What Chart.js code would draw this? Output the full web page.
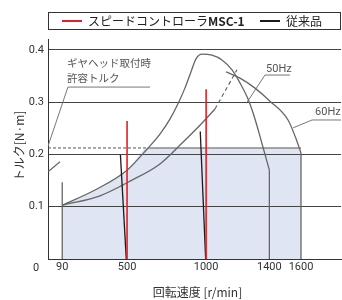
<!DOCTYPE html>
<html lang="ja">
<head>
<meta charset="utf-8">
<script src="https://cdn.jsdelivr.net/npm/chart.js@4"></script>
<style>
  body{ margin:0; background:#fff; }
  #quadro{ position:relative; width:342px; height:300px; }
  #grafico{ display:block; }
  #legenda{ position:absolute; left:48px; top:12px; width:291px; height:16px; border:1px solid #333;
    font:12px "Noto Sans CJK JP", sans-serif; color:#222; }
  .traco{ position:absolute; top:7px; width:20px; height:2px; }
  .item{ position:absolute; top:0; line-height:16px; white-space:nowrap; }
</style>
</head>
<body>
<div id="quadro">
  <canvas id="grafico" width="342" height="300"></canvas>
  <div id="legenda">
    <span class="traco" style="left:13px;background:#e41f26"></span>
    <span class="item" style="left:39px">スピードコントローラ<b>MSC-1</b></span>
    <span class="traco" style="left:211px;background:#1a1a1a"></span>
    <span class="item" style="left:237px">従来品</span>
  </div>
</div>
<script>
// Dados do gráfico

const ticksVelocidade = [90, 500, 1000, 1400, 1600]
const ticksTorque = [0.1, 0.2, 0.3, 0.4]

// MSC-1 (vermelho)
const mscVelocidade = [500, 1000]
const mscTorque = [0.264, 0.325]

// convencional (preto)
const convTopoVelocidade = [458, 963]
const convTopoTorque = [0.199, 0.244]
const convBaseVelocidade = [495, 997]

// curva 50Hz
const vel50 = [90, 297, 500, 633, 708, 772, 822, 866, 904, 936, 974, 1037, 1100, 1164, 1214, 1265, 1309, 1354, 1400]
const tor50 = [0.103, 0.132, 0.170, 0.2125, 0.239, 0.268, 0.297, 0.327, 0.358, 0.383, 0.392, 0.390, 0.381, 0.362, 0.337, 0.306, 0.268, 0.220, 0.170]

// curva 60Hz
const vel60Subida = [90, 329, 519, 708, 848, 961, 1056]
const tor60Subida = [0.103, 0.121, 0.149, 0.182, 0.222, 0.256, 0.287]
const vel60Tracejado = [1056, 1195]
const tor60Tracejado = [0.287, 0.362]
const vel60Queda = [1126, 1214, 1309, 1404, 1518, 1565, 1600]
const tor60Queda = [0.358, 0.346, 0.327, 0.302, 0.266, 0.233, 0.203]

// linhas verticais (90, 1400, 1600)
const verticalVelocidade = [90, 1400, 1600]
const verticalTorque = [0.147, 0.170, 0.203]

// torque admissível com redutor
const torqueRedutor = 0.2125
const fimRedutor = 1600

// linhas de chamada
const guiaRedutorVel = [0, 126, 645]
const guiaRedutorTor = [0.216, 0.329, 0.329]
const guia50Vel = [1259, 1372, 1530]
const guia50Tor = [0.300, 0.352, 0.352]
const guia60Vel = [1550, 1670, 1853]
const guia60Tor = [0.251, 0.266, 0.266]
const tracoEsqVel = [0, 76]
const tracoEsqTor = [0.167, 0.186]

// textos no gráfico
const rotulos = [
    { texto: 'ギヤヘッド取付時', x: 120, y: 0.375, fonte: '10.5px "Noto Sans CJK JP"' },
    { texto: '許容トルク', x: 120, y: 0.346, fonte: '10.5px "Noto Sans CJK JP"' },
    { texto: '50Hz', x: 1379, y: 0.364, fonte: '11px Roboto' },
    { texto: '60Hz', x: 1689, y: 0.281, fonte: '11px Roboto' }
]

// cores
const vermelho = '#e41f26'
const preto = '#1a1a1a'
const cinza = '#666'

function pares(xs, ys){
    const lista = []
    for(let i = 0; i < xs.length; i++){
        lista.push({ x: xs[i], y: ys[i] })
    }
    return lista
}

function linha(xs, ys, cor, largura, extra){
    return Object.assign({
        data: pares(xs, ys),
        borderColor: cor,
        borderWidth: largura,
        pointRadius: 0,
        showLine: true,
        fill: false,
        tension: 0
    }, extra || {})
}

const datasets = []

// vermelho e preto por cima
for(let i = 0; i < mscVelocidade.length; i++){
    datasets.push(linha([mscVelocidade[i], mscVelocidade[i]], [0, mscTorque[i]], vermelho, 1.6))
}
for(let i = 0; i < convTopoVelocidade.length; i++){
    datasets.push(linha([convTopoVelocidade[i], convBaseVelocidade[i]], [convTopoTorque[i], 0], preto, 1.3))
}

// curvas do motor
const suave = { cubicInterpolationMode: 'monotone' }
datasets.push(linha(vel50, tor50, cinza, 1.3, suave))
datasets.push(linha(vel60Subida, tor60Subida, cinza, 1.3, suave))
datasets.push(linha(vel60Tracejado, tor60Tracejado, cinza, 1.2, { borderDash: [4, 3] }))
datasets.push(linha(vel60Queda, tor60Queda, cinza, 1.3, suave))

for(let i = 0; i < verticalVelocidade.length; i++){
    datasets.push(linha([verticalVelocidade[i], verticalVelocidade[i]], [0, verticalTorque[i]], cinza, 1.3))
}

// limite do redutor
const inicioFaixa = vel50[tor50.indexOf(torqueRedutor)]
datasets.push(linha([0, inicioFaixa], [torqueRedutor, torqueRedutor], '#555', 1, { borderDash: [3, 2] }))
datasets.push(linha([inicioFaixa, fimRedutor], [torqueRedutor, torqueRedutor], '#888', 1.5))

// chamadas
datasets.push(linha(guiaRedutorVel, guiaRedutorTor, '#777', 1))
datasets.push(linha(guia50Vel, guia50Tor, '#777', 1))
datasets.push(linha(guia60Vel, guia60Tor, '#777', 1))
datasets.push(linha(tracoEsqVel, tracoEsqTor, cinza, 1.2))

// área sombreada
const faixaVel = []
const faixaTor = []
for(let i = 0; i < vel50.length && vel50[i] <= inicioFaixa; i++){
    faixaVel.push(vel50[i])
    faixaTor.push(tor50[i])
}
faixaVel.push(fimRedutor)
faixaTor.push(torqueRedutor)
datasets.push(linha(faixaVel, faixaTor, 'rgba(0,0,0,0)', 0, {
    fill: 'origin',
    backgroundColor: '#dfe5f2',
    cubicInterpolationMode: 'monotone'
}))

// textos extras
const textos = {
    id: 'textos',
    afterDatasetsDraw(chart){
        const ctx = chart.ctx
        const x = chart.scales.x
        const y = chart.scales.y
        const area = chart.chartArea

        ctx.save()
        ctx.textBaseline = 'middle'
        ctx.fillStyle = '#555'
        for(const r of rotulos){
            ctx.font = r.fonte
            ctx.textAlign = 'left'
            ctx.fillText(r.texto, x.getPixelForValue(r.x), y.getPixelForValue(r.y))
        }

        ctx.fillStyle = '#333'
        ctx.font = '11px Roboto'
        ctx.textAlign = 'center'
        ctx.fillText('0', area.left - 12, area.bottom + 9)

        ctx.font = '12px "Noto Sans CJK JP"'
        ctx.fillText('回転速度 [r/min]', (area.left + area.right) / 2 + 3, area.bottom + 33)

        ctx.translate(area.left - 29, (area.top + area.bottom) / 2 - 3)
        ctx.rotate(-Math.PI / 2)
        ctx.fillText('トルク[N·m]', 0, 0)
        ctx.restore()
    }
}

const grafico = new Chart(document.getElementById('grafico'), {
    type: 'scatter',
    data: { datasets: datasets },
    options: {
        responsive: false,
        animation: false,
        layout: { padding: { top: 39, right: 1, left: 0, bottom: 0 } },
        plugins: {
            legend: { display: false },
            tooltip: { enabled: false },
            filler: { drawTime: 'beforeDraw' }
        },
        scales: {
            x: {
                type: 'linear',
                min: 0,
                max: 1853,
                afterBuildTicks: function(s){ s.ticks = ticksVelocidade.map(v => ({ value: v })) },
                afterFit: function(s){ s.height = 41 },
                ticks: {
                    font: { family: 'Roboto', size: 11 },
                    color: '#333',
                    padding: 2,
                    maxRotation: 0,
                    autoSkip: false,
                    callback: v => String(v)
                },
                grid: { display: false, drawTicks: false },
                border: { display: true, color: '#333', width: 1 }
            },
            y: {
                min: 0,
                max: 0.421,
                afterBuildTicks: function(s){ s.ticks = ticksTorque.map(v => ({ value: v })) },
                afterFit: function(s){ s.width = 48 },
                ticks: {
                    font: { family: 'Roboto', size: 11 },
                    color: '#333',
                    padding: 4,
                    callback: v => v.toFixed(1)
                },
                grid: { color: '#444', drawTicks: false, lineWidth: 1 },
                border: { color: '#333', width: 1 }
            }
        }
    },
    plugins: [textos]
})
</script>
</body>
</html>
